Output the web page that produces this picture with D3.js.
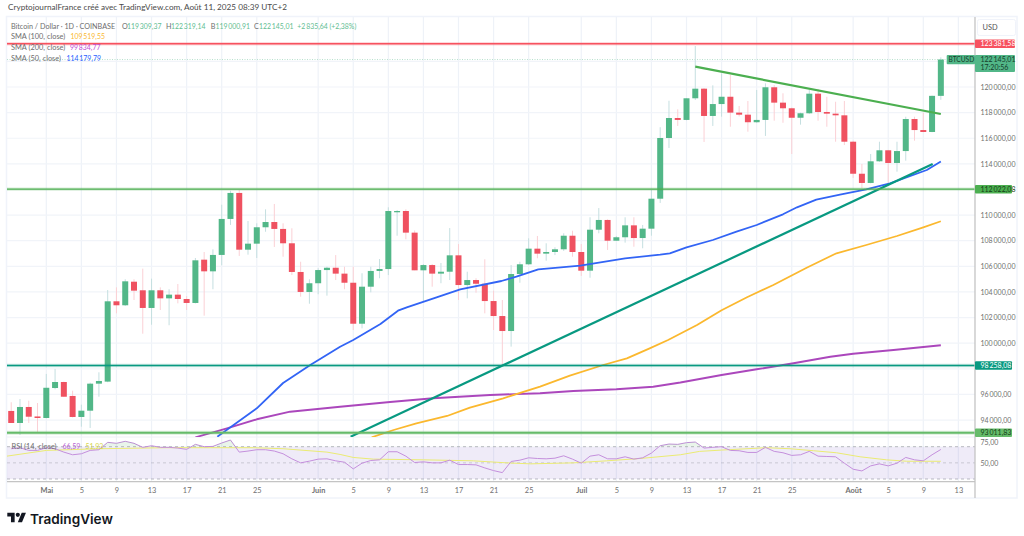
<!DOCTYPE html>
<html><head><meta charset="utf-8">
<script src="https://cdn.jsdelivr.net/npm/d3@7"></script>
<style>
html,body{margin:0;padding:0;background:#fff}
svg{display:block}
text{font-family:"Lato","Open Sans",sans-serif}
.tick text{font-family:"Lato","Open Sans",sans-serif}
</style></head><body><div id="c"></div>
<script>
const firstDay=-4;
const opens=[94710,93770,95020,94280,94160,96500,96970,95880,94240,94730,96840,97000,103270,102960,104800,104130,102750,104130,103500,103790,103450,103140,106520,105610,106890,109700,111730,107300,107770,109050,109460,108920,107800,105560,104000,104680,105710,105890,105430,104720,101520,104410,105640,105790,110220,110320,108630,105690,106100,105430,105580,106860,104540,104930,104640,103290,102120,100950,105400,106160,107380,106990,107120,107330,108390,107120,105660,108860,109620,108000,108270,109200,108210,108940,111280,116020,117580,117430,119120,119870,117740,118670,119240,118000,117840,117250,117430,119980,118780,118340,117600,117950,119480,118050,117920,117790,115730,113230,112510,114200,115060,114070,115000,117500,116640,116490,119309.37];
const highs=[95390,95640,95510,95330,97600,97990,97000,96290,95200,96920,97730,104150,104360,104990,104990,105820,105040,104360,104210,104620,103680,106650,107120,107330,110810,111900,111960,109540,109360,110450,110870,109360,108970,106360,104990,105850,105970,106880,105970,105970,105460,105970,106570,110610,110400,110450,108800,106180,106180,106260,108990,107740,105580,105070,106550,104100,103370,106100,106360,108190,108370,107800,107490,108580,108780,107740,109830,110550,109670,108370,109830,109830,109230,111960,116860,118930,118260,119120,123200,119920,120130,121070,120940,118520,118910,119770,120290,120150,119510,118400,118000,119770,119850,119240,118850,118910,115800,113990,114770,115730,115090,115730,117680,117680,118000,119330,122319.14];
const lows=[93770,92830,93770,92990,94130,96400,95800,94200,93480,93380,95820,96950,102330,102900,103370,100740,101440,102590,101400,103110,102590,103100,102150,104210,106080,109230,106810,106910,106650,108700,107510,106750,105320,103630,103080,103820,103710,104930,104210,101030,101160,103970,105070,105320,108390,108110,105690,103240,104410,104680,104930,103370,103500,103940,102330,101030,98300,99730,104720,106100,106630,106440,106880,107200,106750,105250,105110,108580,107280,107980,107850,107530,107410,108390,110950,115240,116960,117400,118990,115710,116960,117680,116900,117700,116510,117200,116180,117370,117210,114770,117060,117900,117370,116900,115730,115470,112900,112120,112480,114150,112510,113390,114250,115810,116480,116470,119000.91];
const closes=[93770,95020,94260,94160,96520,96970,95820,94240,94730,96840,97050,103270,102960,104830,104100,102750,104130,103500,103790,103450,103140,106470,105610,106890,109700,111730,107300,107770,109050,109460,108920,107800,105560,104000,104680,105710,105890,105430,104720,101520,104410,105640,105790,110320,110320,108630,105690,106100,105430,105580,106860,104540,104930,104640,103290,102120,100950,105400,106160,107380,106990,107120,107330,108390,107120,105660,108860,109620,108000,108270,109200,108210,108940,111280,116020,117580,117430,119120,119870,117740,118670,119240,118000,117840,117250,117430,119980,118780,118340,117600,117950,119480,118050,117920,117790,115730,113230,112510,114200,115060,114070,115000,117500,116640,116490,119310,122145.01];

const sma50Days=[19.5,24,27,30.1,33.5,35,38.1,40.1,41.1,44.5,47.2,51.9,53.6,56.1,60.9,66,70,71.1,73,76,78.7,81,84,85.6,87.8,90.5,93.5,96.2,100.4,102];
const sma50Vals=[92700,94917,96892,98297,99726,100249,101498,102537,102802,103583,104207,104855,105191,105769,106050,106627,106909,107018,107486,108056,108704,109227,110062,110609,111202,111593,112014,112483,113521,114179.79];
const sma100Days=[37.1,39.6,42.2,45.7,48.3,52.1,56.3,59.7,63.5,66.2,68.8,70.9,74.2,77,79.9,82.9,86.7,90.1,93.5,97,100,102];
const sma100Vals=[92653,93223,93746,94316,94964,95698,96603,97462,98297,98820,99601,100249,101420,102567,103583,104543,105893,107018,107666,108368,109048,109519.55];
const sma200Days=[17,20.6,24,27.8,33.5,39.2,44.1,50.6,56.3,60.1,65,69.2,72.3,77,81,85.2,89.4,92,96.6,102];
const sma200Vals=[92653,93356,94058,94652,95042,95409,95698,95955,96088,96268,96400,96603,96931,97518,97962,98430,98945,99180,99469,99834.77];

const rsiVals=[67.5,68.75,65.4,65.4,68.75,67.5,63.3,60,61.25,65.4,66.25,75.4,74.2,76.7,74.2,69.2,71.25,69.2,69.2,68.3,66.7,72.9,70,70.4,74.6,78.3,63.3,64.6,66.25,66.25,64.6,61.25,55,50,52.1,54.6,55,52.5,50.8,42.5,49.6,52.9,53.75,63.75,63.75,58.3,50.4,51.25,50,50,53.3,47.9,47.9,47.5,43.75,40.4,37.9,51.7,53.3,56.25,55.4,55,55.8,58.75,54.6,49.6,58.3,60,55,55,57.5,54.6,56.25,62.1,71.25,73.3,72.9,75,75.8,68.3,69.2,70,65.4,65,62.9,62.9,69.2,64.2,62.5,59.2,60,64.2,58.3,57.9,57.5,49.6,42.1,40,46.25,48.75,46.25,49.6,56.7,53.75,52.5,60,66.59];
const rsiMaDays=[-4.5,0,6.1,13.7,23.6,27,32,33.5,35,37.3,43,48.7,52.5,55.2,60.1,63.9,67.7,72.3,74.5,77,79.9,82.1,84.8,87.5,90.1,92.8,95.8,98.1,102];
const rsiMaVals=[58.3,65.4,67.5,68.75,68.75,67.5,63.3,60.4,56.7,54.6,53.75,52.5,50,48.75,50,52.5,55.4,60,64.2,65.8,67.5,68.75,67.5,65,62.5,57.5,53.75,52,51.93];

const fallDays=[74,102], fallVals=[121586,117893];
const riseDays=[34.7,101.07], riseVals=[92700,113990];

const priceTicks=[120000,118000,116000,114000,110000,108000,106000,104000,102000,100000,96000,94000];
const gridPrices=[122000,120000,118000,116000,114000,112000,110000,108000,106000,104000,102000,100000,98000,96000,94000];
const dayTicks=[0,4,8,12,16,20,24,31,35,39,43,47,51,55,61,65,69,73,77,81,85,92,96,100,104];
const dayLabels=["Mai","5","9","13","17","21","25","Juin","5","9","13","17","21","25","Juil","5","9","13","17","21","25","Août","5","9","13"];
const rsiTicks=[75,50];
const level1=123381.58, level2=112022.08, level3=98258.08, level4=93011.83, lastPrice=122145.01;

const W=1024,H=536,axisX=975,chartL=7,paneTop=17,paneBot=437,rsiBot=481.7,frameBot=498,frameR=1017;
const UP="#52b788",DOWN="#ef5160",UPW="#c5dfe0",DOWNW="#fbd0d5";
const AXS=7;
const svg=d3.select("#c").append("svg").attr("width",W).attr("height",H).attr("viewBox",`0 0 ${W} ${H}`);
const x=d3.scaleLinear().domain([0,100]).range([46.3,923.3]);
const y=d3.scaleLinear().domain([level4,level1]).range([432.7,43.7]);
const yr=d3.scaleLinear().domain([30,70]).range([479,446.7]);
const fmt=v=>d3.format(".2f")(v).replace(/\B(?=(\d{3})+(?!\d))(?=.*\.)/g,"\u2009").replace(".",",");
const defs=svg.append("defs");
defs.append("clipPath").attr("id","main").append("rect").attr("x",chartL).attr("y",paneTop).attr("width",axisX-chartL).attr("height",paneBot-paneTop);
defs.append("clipPath").attr("id","rsi").append("rect").attr("x",chartL).attr("y",paneBot).attr("width",axisX-chartL).attr("height",rsiBot-paneBot);
defs.append("clipPath").attr("id","ob").append("rect").attr("x",chartL).attr("y",paneBot).attr("width",axisX-chartL).attr("height",yr(70)-paneBot);

// frame
svg.append("rect").attr("x",6.5).attr("y",16.5).attr("width",frameR-6.5).attr("height",frameBot-16.5).attr("fill","#fff").attr("stroke","#f0f3fa").attr("stroke-width",1.5);
// grid
const g=svg.append("g");
g.selectAll(".v").data(dayTicks).join("line").attr("x1",d=>x(d)).attr("x2",d=>x(d)).attr("y1",paneTop).attr("y2",rsiBot).attr("stroke","#eef2f8").attr("stroke-width",1.2);
g.selectAll(".h").data(gridPrices).join("line").attr("x1",chartL).attr("x2",axisX).attr("y1",d=>y(d)).attr("y2",d=>y(d)).attr("stroke","#f1f4f9").attr("stroke-width",1.2);
g.append("line").attr("x1",chartL).attr("x2",axisX).attr("y1",paneBot).attr("y2",paneBot).attr("stroke","#eef1f6");

// main pane
const m=svg.append("g").attr("clip-path","url(#main)");
const days=opens.map((_,i)=>i+firstDay);
m.append("line").attr("x1",chartL).attr("x2",axisX).attr("y1",y(lastPrice)).attr("y2",y(lastPrice)).attr("stroke","#a5d8bf").attr("stroke-dasharray","1 1.5").attr("stroke-width",.8);
m.selectAll(".w").data(days).join("line").attr("x1",d=>x(d)).attr("x2",d=>x(d))
 .attr("y1",(d,i)=>y(highs[i])).attr("y2",(d,i)=>y(lows[i]))
 .attr("stroke",(d,i)=>closes[i]>=opens[i]?UPW:DOWNW).attr("stroke-width",1);
m.selectAll(".b").data(days).join("rect").attr("x",d=>x(d)-3).attr("width",6)
 .attr("y",(d,i)=>y(Math.max(opens[i],closes[i])))
 .attr("height",(d,i)=>Math.max(1,Math.abs(y(opens[i])-y(closes[i]))))
 .attr("fill",(d,i)=>closes[i]>=opens[i]?UP:DOWN);
const ln=d3.line().x(d=>x(d[0])).y(d=>y(d[1]));
const series=(ds,vs)=>ds.map((d,i)=>[d,vs[i]]);
const path=(ds,vs,c,w)=>m.append("path").attr("d",ln(series(ds,vs))).attr("fill","none").attr("stroke",c).attr("stroke-width",w).attr("stroke-linejoin","round");
path(sma200Days,sma200Vals,"#ab47bc",1.9);
path(sma100Days,sma100Vals,"#fbb82e",1.8);
path(sma50Days,sma50Vals,"#3264f5",1.8);
path(riseDays,riseVals,"#089981",2.2);
path(fallDays,fallVals,"#4caf50",2.2);
const hline=(p,c,w)=>{
 m.append("line").attr("x1",chartL).attr("x2",axisX).attr("y1",y(p)).attr("y2",y(p)).attr("stroke",c).attr("stroke-width",w+2).attr("stroke-opacity",.22);
 m.append("line").attr("x1",chartL).attr("x2",axisX).attr("y1",y(p)).attr("y2",y(p)).attr("stroke",c).attr("stroke-width",w);
};
hline(level1,"#f7525f",1.5);
hline(level2,"#4caf50",1.3);
hline(level3,"#089981",1.5);
hline(level4,"#66bb6a",2);

// RSI pane
const r=svg.append("g").attr("clip-path","url(#rsi)");
r.append("rect").attr("x",chartL).attr("width",axisX-chartL).attr("y",yr(70)).attr("height",yr(30)-yr(70)).attr("fill","#7e57c2").attr("fill-opacity",.12);
const rsiPts=rsiVals.map((v,i)=>[i+firstDay,v]);
svg.append("path").attr("clip-path","url(#ob)").attr("d",d3.area().x(d=>x(d[0])).y0(yr(70)).y1(d=>yr(d[1]))(rsiPts)).attr("fill","#4caf50").attr("fill-opacity",.12);
[70,50,30].forEach(v=>r.append("line").attr("x1",chartL).attr("x2",axisX).attr("y1",yr(v)).attr("y2",yr(v)).attr("stroke","#a9a9b3").attr("stroke-opacity",v===50?.6:.9).attr("stroke-width",.9).attr("stroke-dasharray","3 3"));
const lr=d3.line().x(d=>x(d[0])).y(d=>yr(d[1]));
r.append("path").attr("d",lr(series(rsiMaDays,rsiMaVals))).attr("fill","none").attr("stroke","#eaeb72").attr("stroke-width",1);
r.append("path").attr("d",lr(rsiPts)).attr("fill","none").attr("stroke","#c48fdc").attr("stroke-width",1);

// axes
svg.append("line").attr("x1",chartL).attr("x2",axisX).attr("y1",rsiBot).attr("y2",rsiBot).attr("stroke","#c4c4c4").attr("stroke-width",1.3);
svg.append("line").attr("x1",axisX).attr("x2",axisX).attr("y1",paneTop).attr("y2",frameBot).attr("stroke","#c4c4c4").attr("stroke-width",1.3);
const style=(a,c)=>{a.select(".domain").remove();a.selectAll(".tick line").remove();a.selectAll("text").attr("fill",c).attr("font-size",AXS);};
svg.append("g").attr("transform",`translate(${axisX},0)`).call(d3.axisRight(y).tickValues(priceTicks).tickFormat(fmt).tickSize(0).tickPadding(5.5)).call(style,"#707070");
svg.append("g").attr("transform",`translate(${axisX},0)`).call(d3.axisRight(yr).tickValues(rsiTicks).tickFormat(fmt).tickSize(0).tickPadding(5.5)).call(style,"#707070");
svg.append("g").attr("transform",`translate(0,${rsiBot})`).call(d3.axisBottom(x).tickValues(dayTicks).tickFormat((d,i)=>dayLabels[i]).tickSize(0).tickPadding(6.5)).call(style,"#707070")
 .selectAll("text").attr("font-size",7.4).attr("font-weight",(d,i)=>isNaN(+dayLabels[i])?700:400);

// tags
const tagsG=svg.append("g");
const tag=(yc,w,h,bg,fg,lines)=>{
 tagsG.append("rect").attr("x",axisX).attr("y",yc-h/2).attr("width",w).attr("height",h).attr("rx",1).attr("fill",bg);
 lines.forEach(t=>tagsG.append("text").attr("x",axisX+5.5).attr("y",yc+2.5).attr("font-size",AXS).attr("fill",fg).text(t));
};
tag(y(level1),40,8.6,"#f7525f","#fff",[fmt(level1)]);
tag(y(level2),37,8.6,"#4caf50","#143d17",[fmt(level2)]);
tag(y(level3),37,8.6,"#089981","#fff",[fmt(level3)]);
tag(y(level4),37,8.6,"#66bb6a","#143d17",[fmt(level4)]);
svg.append("rect").attr("x",axisX).attr("y",55).attr("width",40).attr("height",17).attr("rx",1).attr("fill",UP);
svg.append("text").attr("x",axisX+5.5).attr("y",62).attr("font-size",AXS).attr("fill","#143d2b").text(fmt(lastPrice));
svg.append("text").attr("x",axisX+5.5).attr("y",70).attr("font-size",AXS).attr("fill","#143d2b").text("17:20:56");
svg.append("rect").attr("x",946.7).attr("y",55).attr("width",28.3).attr("height",9.3).attr("rx",1).attr("fill",UP);
svg.append("text").attr("x",948.5).attr("y",62.3).attr("font-size",6.6).attr("fill","#143d2b").text("BTCUSD");
svg.append("rect").attr("x",977.5).attr("y",19.5).attr("width",38).attr("height",16).attr("rx",2).attr("fill","#fff").attr("stroke","#f0f3fa");
svg.append("text").attr("x",982.5).attr("y",30).attr("font-size",7.4).attr("fill","#555").text("USD");

// legend
const txt=(xp,yp,t,c,o={})=>svg.append("text").attr("x",xp).attr("y",yp).attr("font-size",o.s||7.2).attr("fill",c).attr("font-weight",o.w||400).text(t);
txt(8,9.5,"CryptojournalFrance créé avec TradingView.com, Août 11, 2025 08:39 UTC+2","#4a4a4a",{s:8.2});
const G="#6e6e6e",Up="#62bd92";
txt(11,28.5,"Bitcoin / Dollar · 1D · COINBASE",G,{s:7.2});
txt(122,28.5,"O",G);txt(127,28.5,"119\u2009309,37",Up,{s:6.9});
txt(166,28.5,"H",G);txt(171,28.5,"122\u2009319,14",Up,{s:6.9});
txt(210.7,28.5,"B",G);txt(215.5,28.5,"119\u2009000,91",Up,{s:6.9});
txt(254,28.5,"C",G);txt(259,28.5,"122\u2009145,01",Up,{s:6.9});
txt(297.3,28.5,"+2\u2009835,64 (+2,38%)",Up,{s:6.9});
txt(11,39,"SMA (100, close)",G,{s:7.4});txt(70.5,39,"109\u2009519,55","#fbb82e",{s:6.9});
txt(11,50,"SMA (200, close)",G,{s:7.4});txt(70,50,"99\u2009834,77","#c04fd6",{s:6.9});
txt(11,60.5,"SMA (50, close)",G,{s:7.4});txt(66.5,60.5,"114\u2009179,79","#2962ff",{s:6.9});
txt(11.5,449,"RSI (14, close)",G,{s:7.4});txt(62.5,449,"66,59","#b65fd0",{s:7});txt(85.5,449,"51,93","#d7d74a",{s:7});

// logo
const lg=svg.append("g").attr("transform","translate(7.3,510.6) scale(.525)").attr("fill","#131722");
lg.append("path").attr("d","M14 22H7V11H0V4h14v18zM28 22h-8l7.5-18h8L28 22z");
lg.append("circle").attr("cx",20).attr("cy",8).attr("r",4);
svg.append("text").attr("x",30).attr("y",523.5).attr("font-size",13.6).attr("font-weight",600).attr("fill","#131722").style("font-family","Inter").text("TradingView");
</script></body></html>
